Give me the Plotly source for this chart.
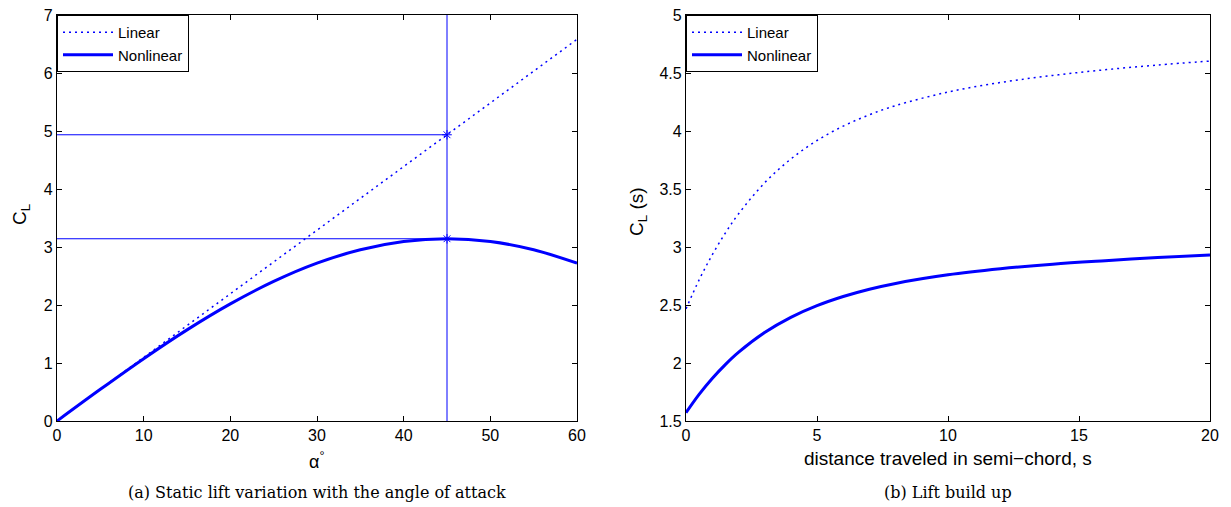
import plotly.graph_objects as go

# ---- data (a): static lift vs angle of attack ----
alpha_deg = [0, 5, 10, 15, 20, 25, 30, 35, 40, 45, 50, 55, 60]
cl_linear_a = [0.000, 0.548, 1.097, 1.645, 2.193, 2.742, 3.290, 3.838, 4.386, 4.935, 5.483, 6.031, 6.580]
cl_nonlin_a = [0.000, 0.546, 1.075, 1.571, 2.019, 2.406, 2.721, 2.952, 3.094, 3.142, 3.094, 2.952, 2.721]
alpha_mark = 45
cl_lin_mark = 4.935
cl_nonlin_mark = 3.142

# ---- data (b): lift build up ----
s_dist = [0, 0.5, 1, 1.5, 2, 3, 4, 5, 6, 7, 8, 10, 12, 14, 16, 18, 20]
cl_linear_b = [2.467, 2.716, 2.932, 3.120, 3.284, 3.553, 3.758, 3.918, 4.042, 4.140, 4.219,
               4.336, 4.418, 4.479, 4.528, 4.569, 4.603]
cl_nonlin_b = [1.571, 1.729, 1.866, 1.986, 2.091, 2.262, 2.393, 2.494, 2.573, 2.636, 2.686,
               2.760, 2.812, 2.852, 2.882, 2.909, 2.930]

ticks_xa = [0, 10, 20, 30, 40, 50, 60]
ticks_ya = [0, 1, 2, 3, 4, 5, 6, 7]
ticks_xb = [0, 5, 10, 15, 20]
ticks_yb = [1.5, 2, 2.5, 3, 3.5, 4, 4.5, 5]

BLUE = "#0000ff"
OFF = 8                      # page body margin
W, H = 1231 - OFF, 507 - OFF
SANS = "Liberation Sans, Arial, sans-serif"
SERIF = "DejaVu Serif, serif"


def px_x(p):
    return (p - OFF) / W


def px_y(p):
    return 1 - (p - OFF) / H


fig = go.Figure()

# left panel
fig.add_trace(go.Scatter(x=alpha_deg, y=cl_linear_a, mode="lines", name="Linear",
                         line=dict(color=BLUE, width=1.5, dash="2px,4px"),
                         xaxis="x", yaxis="y", legend="legend"))
fig.add_trace(go.Scatter(x=alpha_deg, y=cl_nonlin_a, mode="lines", name="Nonlinear",
                         line=dict(color=BLUE, width=3, shape="spline"),
                         xaxis="x", yaxis="y", legend="legend"))
# reference lines
fig.add_trace(go.Scatter(x=[0, alpha_mark], y=[cl_lin_mark, cl_lin_mark], mode="lines",
                         line=dict(color=BLUE, width=1), showlegend=False, xaxis="x", yaxis="y"))
fig.add_trace(go.Scatter(x=[0, alpha_mark], y=[cl_nonlin_mark, cl_nonlin_mark], mode="lines",
                         line=dict(color=BLUE, width=1), showlegend=False, xaxis="x", yaxis="y"))
fig.add_trace(go.Scatter(x=[alpha_mark, alpha_mark], y=[ticks_ya[0], ticks_ya[-1]], mode="lines",
                         line=dict(color=BLUE, width=1), showlegend=False, xaxis="x", yaxis="y"))
fig.add_trace(go.Scatter(x=[alpha_mark, alpha_mark], y=[cl_lin_mark, cl_nonlin_mark], mode="markers",
                         marker=dict(symbol="asterisk-open", size=8, color=BLUE,
                                     line=dict(color=BLUE, width=1)),
                         showlegend=False, xaxis="x", yaxis="y"))

# right panel
fig.add_trace(go.Scatter(x=s_dist, y=cl_linear_b, mode="lines", name="Linear",
                         line=dict(color=BLUE, width=1.5, dash="2px,4px", shape="spline"),
                         xaxis="x2", yaxis="y2", legend="legend2"))
fig.add_trace(go.Scatter(x=s_dist, y=cl_nonlin_b, mode="lines", name="Nonlinear",
                         line=dict(color=BLUE, width=3, shape="spline"),
                         xaxis="x2", yaxis="y2", legend="legend2"))

ax_common = dict(showline=True, linecolor="black", linewidth=1.2, mirror="ticks",
                 ticks="inside", ticklen=5, tickcolor="black", showgrid=False, zeroline=False,
                 automargin=False, ticklabeloverflow="allow",
                 tickfont=dict(family=SANS, size=16, color="black"))

xa0, xa1 = px_x(57), px_x(577)
xb0, xb1 = px_x(686), px_x(1210)
y0, y1 = px_y(421), px_y(15)

leg_common = dict(xanchor="left", yanchor="top", bgcolor="white",
                  bordercolor="black", borderwidth=1,
                  font=dict(family=SANS, size=15, color="black"),
                  tracegroupgap=0, itemwidth=50)

fig.update_layout(
    width=W, height=H, margin=dict(l=0, r=0, t=0, b=0, autoexpand=False),
    paper_bgcolor="white", plot_bgcolor="white",
    xaxis=dict(domain=[xa0, xa1], range=[0, 60], tickvals=ticks_xa, anchor="y", **ax_common),
    yaxis=dict(domain=[y0, y1], range=[0, 7], tickvals=ticks_ya, anchor="x", **ax_common),
    xaxis2=dict(domain=[xb0, xb1], range=[0, 20], tickvals=ticks_xb, anchor="y2", **ax_common),
    yaxis2=dict(domain=[y0, y1], range=[1.5, 5], tickvals=ticks_yb, anchor="x2", **ax_common),
    legend=dict(x=xa0, y=y1, **leg_common),
    legend2=dict(x=xb0, y=y1, **leg_common),
    showlegend=True,
)

ann = [
    dict(text="α<sup>°</sup>", x=(xa0 + xa1) / 2, y=px_y(460), font=dict(family=SANS, size=18)),
    dict(text="distance traveled in semi−chord, s", x=(xb0 + xb1) / 2, y=px_y(458),
         font=dict(family=SANS, size=19)),
    dict(text="C<sub>L</sub>", x=px_x(21), y=px_y(215), textangle=-90, font=dict(family=SANS, size=19)),
    dict(text="C<sub>L</sub> (s)", x=px_x(638), y=px_y(212), textangle=-90, font=dict(family=SANS, size=19)),
    dict(text="(a) Static lift variation with the angle of attack", x=(xa0 + xa1) / 2, y=px_y(492),
         font=dict(family=SERIF, size=16)),
    dict(text="(b) Lift build up", x=(xb0 + xb1) / 2, y=px_y(492), font=dict(family=SERIF, size=16)),
]
for a in ann:
    a.update(xref="paper", yref="paper", showarrow=False, xanchor="center", yanchor="middle")
    a["font"]["color"] = "black"
    fig.add_annotation(**a)

fig.write_html("out.html")
